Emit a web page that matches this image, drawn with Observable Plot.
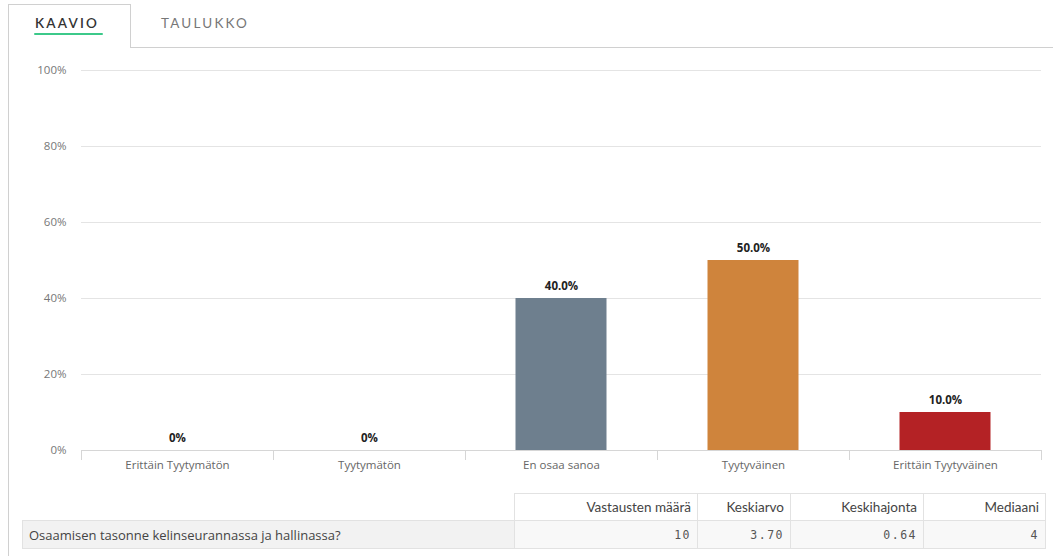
<!DOCTYPE html>
<html>
<head>
<meta charset="utf-8">
<script src="https://cdn.jsdelivr.net/npm/d3@7"></script>
<script src="https://cdn.jsdelivr.net/npm/@observablehq/plot@0.6"></script>
<style>
  html, body { margin: 0; padding: 0; background: #fff; width: 1053px; height: 556px; overflow: hidden; font-family: "Open Sans", sans-serif; }
  #frame { position: absolute; left: 8px; top: 4px; width: 1045px; height: 560px; border-left: 1px solid #d0d0d0; }
  #tab { position: absolute; left: 8px; top: 4px; width: 123px; height: 44px; border: 1px solid #d0d0d0; border-bottom: none; background: #fff; box-sizing: border-box; }
  #tabline { position: absolute; left: 131px; top: 47px; width: 922px; height: 0; border-top: 1px solid #d0d0d0; }
  .tabtxt { position: absolute; top: 15px; font-family: Lato, "Open Sans", sans-serif; font-size: 13.5px; letter-spacing: 2.2px; color: #555; }
  #t1 { left: 35px; color: #333; font-weight: 600; }
  #t2 { left: 161px; color: #777; }
  #uline { position: absolute; left: 34px; top: 33px; width: 69px; height: 2px; background: #3cc98a; border-radius: 1px; }
  #chart { position: absolute; left: 0; top: 50px; }
  table { position: absolute; left: 22px; top: 493px; border-collapse: collapse; font-family: Lato, "Open Sans", sans-serif; }
  td { border: 1px solid #e2e2e2; height: 27px; padding: 0 6px; box-sizing: border-box; text-align: right; font-size: 13.5px; color: #444; }
  td.blank { border: none; border-right: 1px solid #e2e2e2; }
  tr.data td { background: #f8f8f8; height: 28px; font-family: "DejaVu Sans Mono", monospace; font-size: 11.5px; color: #555; letter-spacing: 1.5px; }
  tr.data td.q { background: #f2f2f2; text-align: left; font-family: "Open Sans", sans-serif; font-size: 13px; color: #444; letter-spacing: 0; }
</style>
</head>
<body>
<div id="frame"></div>
<div id="tab"></div>
<div id="tabline"></div>
<div class="tabtxt" id="t1">KAAVIO</div>
<div class="tabtxt" id="t2">TAULUKKO</div>
<div id="uline"></div>
<div id="chart"></div>
<table id="stats"></table>
<script>
const categories = ["Erittäin Tyytymätön", "Tyytymätön", "En osaa sanoa", "Tyytyväinen", "Erittäin Tyytyväinen"];
const shares = [0, 0, 40, 50, 10];
const barColors = ["#6e7f8e", "#6e7f8e", "#6e7f8e", "#cf843c", "#b42225"];
const yTicks = [0, 20, 40, 60, 80, 100];
const statHeaders = ["Vastausten määrä", "Keskiarvo", "Keskihajonta", "Mediaani"];
const question = "Osaamisen tasonne kelinseurannassa ja hallinassa?";
const statValues = ["10", "3.70", "0.64", "4"];

const data = categories.map((c, i) => ({cat: c, v: shares[i], color: barColors[i]}));

function separators(index, scales, values, dimensions) {
  const x = scales.x;
  const bw = x.bandwidth ? x.bandwidth() : (dimensions.width - dimensions.marginLeft - dimensions.marginRight) / categories.length;
  const y0 = dimensions.height - dimensions.marginBottom;
  const g = d3.create("svg:g").attr("stroke", "#d6d6d6").attr("stroke-width", 1);
  const xs = categories.map(c => x(c)).concat([x(categories[categories.length - 1]) + bw]);
  for (const px of xs) {
    g.append("line").attr("x1", Math.round(px) + 0.5).attr("x2", Math.round(px) + 0.5).attr("y1", y0).attr("y2", y0 + 10);
  }
  g.append("line").attr("x1", xs[0]).attr("x2", xs[xs.length - 1]).attr("y1", y0 + 0.5).attr("y2", y0 + 0.5);
  return g.node();
}

const chart = Plot.plot({
  width: 1053,
  height: 430,
  marginLeft: 81,
  marginRight: 12,
  marginTop: 20,
  marginBottom: 30,
  style: {fontFamily: "'Open Sans', sans-serif", fontSize: "11px", background: "transparent"},
  x: {domain: categories, padding: 0, label: null},
  y: {domain: [0, 100], label: null},
  marks: [
    Plot.gridY(yTicks.filter(t => t > 0), {stroke: "#e4e4e4", strokeOpacity: 1}),
    Plot.axisY(yTicks, {tickSize: 0, tickPadding: 15, tickFormat: d => d + "%", fill: "#777", fontSize: 11.5, label: null}),
    Plot.axisX({tickSize: 0, tickPadding: 10, fill: "#666", fontSize: 11.5, label: null}),
    Plot.barY(data, {x: "cat", y: "v", fill: "color", insetLeft: 50.5, insetRight: 50.5}),
    separators,
    Plot.text(data, {x: "cat", y: "v", text: d => d.v === 0 ? "0%" : d.v.toFixed(1) + "%", lineAnchor: "bottom", dy: -9, fontWeight: "bold", fontSize: 11.5, fill: "#222"})
  ]
});
document.getElementById("chart").appendChild(chart);

const table = d3.select("#stats");
const widths = [492, 183, 93, 133, 122];
const hr = table.append("tr");
hr.append("td").attr("class", "blank").style("width", widths[0] + "px");
statHeaders.forEach((h, i) => hr.append("td").style("width", widths[i + 1] + "px").text(h));
const dr = table.append("tr").attr("class", "data");
dr.append("td").attr("class", "q").text(question);
statValues.forEach(v => dr.append("td").text(v));
</script>
</body>
</html>
